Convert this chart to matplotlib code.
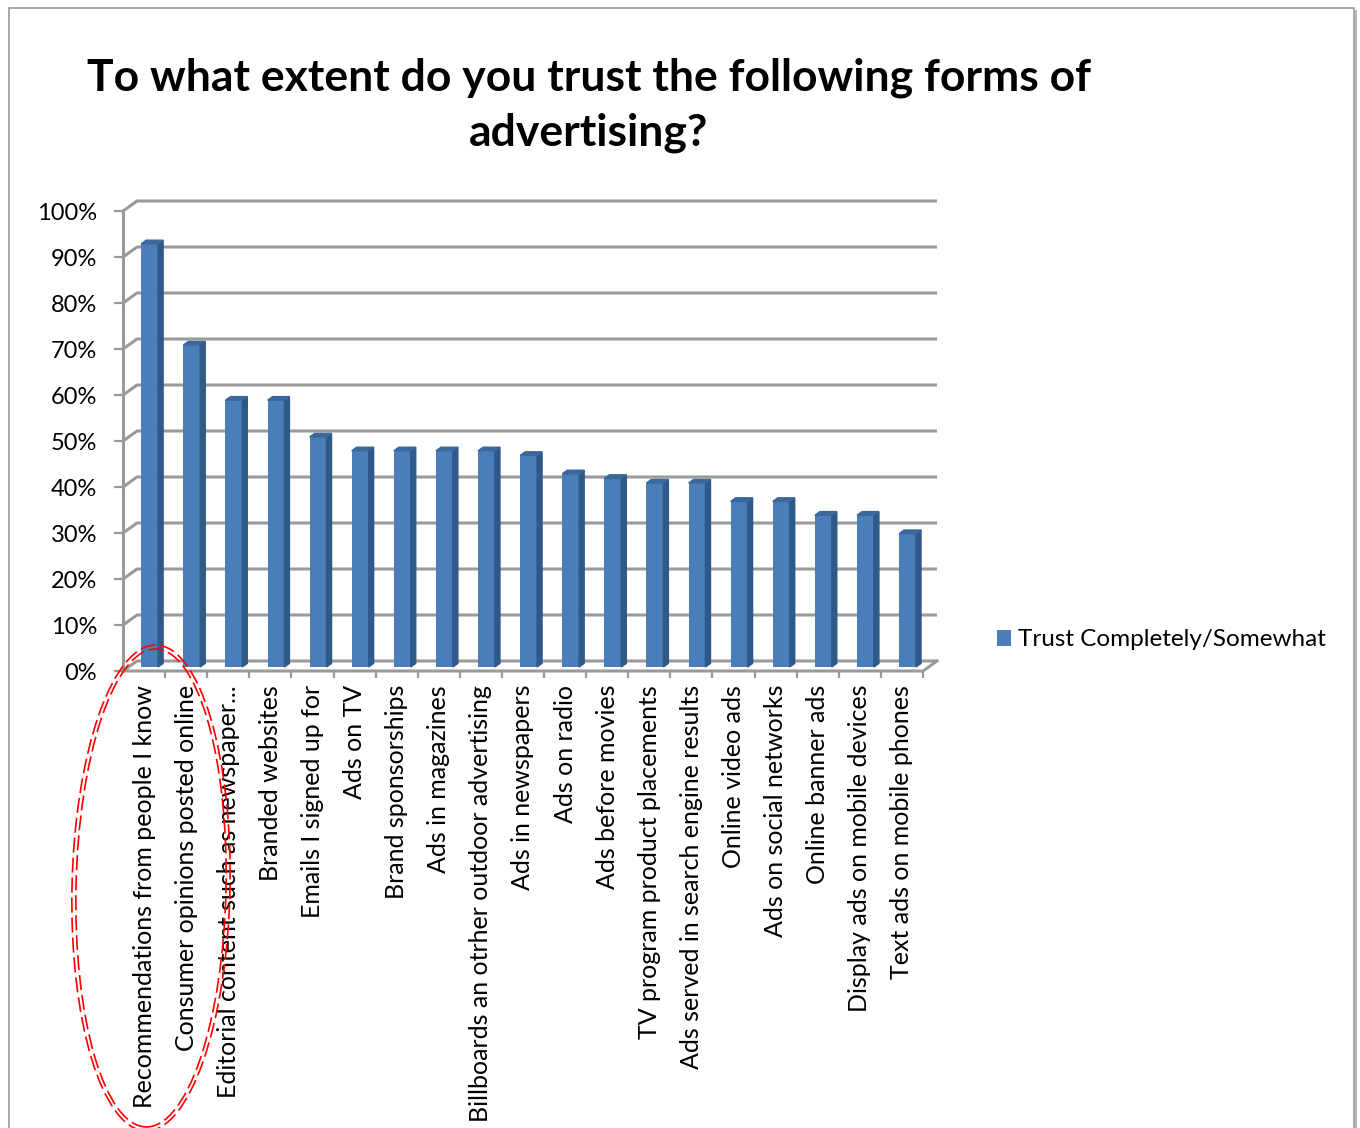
import matplotlib
matplotlib.use("Agg")
import matplotlib.pyplot as plt
from matplotlib.patches import Polygon, Rectangle, Ellipse
import numpy as np

plt.rcParams['font.family'] = ['Lato', 'DejaVu Sans']

# --- data ---
categories = [
    "Recommendations from people I know",
    "Consumer opinions posted online",
    "Editorial content such as newspaper...",
    "Branded websites",
    "Emails I signed up for",
    "Ads on TV",
    "Brand sponsorships",
    "Ads in magazines",
    "Billboards an otrher outdoor advertising",
    "Ads in newspapers",
    "Ads on radio",
    "Ads before movies",
    "TV program product placements",
    "Ads served in search engine results",
    "Online video ads",
    "Ads on social networks",
    "Online banner ads",
    "Display ads on mobile devices",
    "Text ads on mobile phones",
]
trust = [0.92, 0.70, 0.58, 0.58, 0.50, 0.47, 0.47, 0.47, 0.47, 0.46,
         0.42, 0.41, 0.40, 0.40, 0.36, 0.36, 0.33, 0.33, 0.29]
y_ticks = np.arange(0, 1.01, 0.1)
y_labels = [f"{int(round(t * 100))}%" for t in y_ticks]
series_name = "Trust Completely/Somewhat"
title = "To what extent do you trust the following forms of\nadvertising?"

# --- figure ---
W, H = 1360, 1128
fig = plt.figure(figsize=(W / 100, H / 100), dpi=100)

# outer frame
fig.patches.append(Rectangle((9 / W, -0.01), 1345 / W, 1 - 8 / H + 0.01,
                             transform=fig.transFigure, fill=False,
                             edgecolor='#a0a0a0', lw=1.3))
fig.patches.append(Rectangle((1355 / W, -0.01), 2 / W, 1 - 10 / H + 0.01,
                             transform=fig.transFigure, color='#b8b8b8', lw=0))

ax = fig.add_axes([123 / W, (H - 671) / H, 800 / W, 460 / H])
n = len(categories)
ax.set_xlim(0, n)
ax.set_ylim(0, 1)
for s in ax.spines.values():
    s.set_visible(False)

# 3D depth offsets in data units
px_x = 800 / n
px_y = 460
DX = 14 / px_x
DY = 10 / px_y
grid_c = '#9a9a9a'
glw = 2.2

# back wall gridlines + left wall diagonals
for v in y_ticks:
    ax.plot([0, DX, n + DX], [v, v + DY, v + DY], color=grid_c, lw=glw,
            clip_on=False, solid_capstyle='butt', zorder=1)
# floor front edge and right side
ax.plot([0, n, n + DX], [0, 0, DY], color=grid_c, lw=glw, clip_on=False, zorder=1)
# front left axis
ax.plot([0, 0], [0, 1], color=grid_c, lw=glw, clip_on=False, zorder=1)

# ticks
ax.set_yticks(y_ticks)
ax.set_yticklabels(y_labels, fontsize=17)
ax.tick_params(axis='y', length=6.5, width=1.6, color=grid_c, pad=12)
ax.set_xticks(np.arange(n) + 0.5)
ax.set_xticklabels(categories, rotation=90, fontsize=18, va='top')
ax.tick_params(axis='x', length=0, pad=10)
ax.set_xticks(np.arange(1, n + 1), minor=True)
ax.tick_params(axis='x', which='minor', length=5, width=1.6, color=grid_c)

# bars (front face + side + top)
face_c = '#4a7ebb'
side_c = '#2f5988'
top_c = '#3b679c'
bw = 0.40
d0 = 0.40
d1 = 0.36
x0 = np.arange(n) + 0.5 - bw / 2 + d0 * DX
bars = ax.bar(x0, trust, width=bw, bottom=d0 * DY, align='edge', color=face_c,
              label=series_name, zorder=3, clip_on=False)
for xl, v in zip(x0, trust):
    xr = xl + bw
    b = d0 * DY
    side = Polygon([(xr, b), (xr, b + v), (xr + d1 * DX, b + v + d1 * DY),
                    (xr + d1 * DX, b + d1 * DY)], closed=True, color=side_c,
                   zorder=3, clip_on=False)
    top = Polygon([(xl, b + v), (xr, b + v), (xr + d1 * DX, b + v + d1 * DY),
                   (xl + d1 * DX, b + v + d1 * DY)], closed=True, color=top_c,
                  zorder=3, clip_on=False)
    ax.add_patch(side)
    ax.add_patch(top)

# legend
fig.legend(handles=[bars], labels=[series_name], loc='center left',
           bbox_to_anchor=(975 / W, (H - 640) / H), frameon=False, fontsize=17.5,
           handlelength=0.6, handleheight=0.6, handletextpad=0.25)

# title
fig.text(589 / W, (H - 57) / H, title, ha='center', va='top', fontsize=32,
         fontweight='bold', linespacing=1.45)

# red double dashed ellipse highlighting the top two
for dw in (0, 8):
    e = Ellipse((151 / 100, (H - 888) / 100), (158 - dw) / 100, (486 - dw) / 100,
                angle=-1.2, transform=fig.dpi_scale_trans, fill=False,
                edgecolor='red', lw=1.2, linestyle=(0, (9, 3)), zorder=10)
    fig.patches.append(e)

fig.savefig("out.png", dpi=100)
